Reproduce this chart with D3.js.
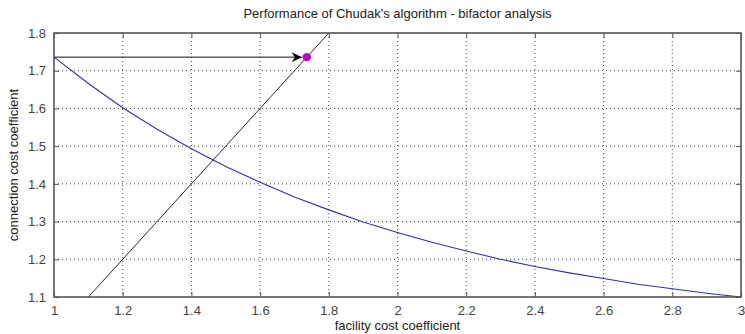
<!DOCTYPE html>
<html>
<head>
<meta charset="utf-8">
<script src="https://cdn.jsdelivr.net/npm/d3@7"></script>
<style>
  body { margin: 0; background: #fff; }
  svg text { font-family: "Liberation Sans", Arial, sans-serif; fill: #222; }
</style>
</head>
<body>
<div id="chart"><svg></svg></div>
<script>
// values
const facility = [1, 1.1, 1.2, 1.3, 1.4, 1.5, 1.6, 1.7, 1.8, 1.9, 2, 2.1, 2.2, 2.3, 2.4, 2.5, 2.6, 2.7, 2.8, 2.9, 3];
const connection = [1.736, 1.666, 1.602, 1.545, 1.493, 1.446, 1.404, 1.365, 1.331, 1.299, 1.271,
  1.245, 1.222, 1.200, 1.181, 1.164, 1.149, 1.134, 1.122, 1.110, 1.100];
const diagonal = [[1.1, 1.1], [1.8, 1.8]];
const bestPoint = [1.736, 1.736];
const arrowStart = [1, 1.736];
const xTicks = [1, 1.2, 1.4, 1.6, 1.8, 2, 2.2, 2.4, 2.6, 2.8, 3];
const yTicks = [1.1, 1.2, 1.3, 1.4, 1.5, 1.6, 1.7, 1.8];

const margin = { top: 33, right: 4, bottom: 37, left: 54 };
const svgSize = { width: 745, height: 334 };
const graphSize = {
  width: svgSize.width - margin.left - margin.right,
  height: svgSize.height - margin.top - margin.bottom,
};

const x = d3.scaleLinear().domain([1, 3]).range([0, graphSize.width]);
const y = d3.scaleLinear().domain([1.1, 1.8]).range([graphSize.height, 0]);

const svg = d3.select("#chart").select("svg")
  .attr("width", svgSize.width)
  .attr("height", svgSize.height);

const defs = svg.append("defs");
defs.append("clipPath").attr("id", "clip")
  .append("rect").attr("width", graphSize.width).attr("height", graphSize.height);
defs.append("marker")
  .attr("id", "arrow")
  .attr("viewBox", "0 0 10 10")
  .attr("refX", 10).attr("refY", 5)
  .attr("markerWidth", 12).attr("markerHeight", 10)
  .attr("markerUnits", "userSpaceOnUse")
  .attr("orient", "auto")
  .append("path")
  .attr("d", "M0,0 L10,5 L0,10 L3,5 Z")
  .attr("fill", "#000");

const g = svg.append("g")
  .attr("transform", "translate(" + margin.left + "," + margin.top + ")");

// grid
g.append("g").selectAll("line").data(xTicks.slice(1, -1)).enter().append("line")
  .attr("x1", d => x(d)).attr("x2", d => x(d))
  .attr("y1", 0).attr("y2", graphSize.height)
  .attr("stroke", "#444").attr("stroke-width", 1).attr("stroke-dasharray", "1,3");
g.append("g").selectAll("line").data(yTicks.slice(1, -1)).enter().append("line")
  .attr("y1", d => y(d)).attr("y2", d => y(d))
  .attr("x1", 0).attr("x2", graphSize.width)
  .attr("stroke", "#444").attr("stroke-width", 1).attr("stroke-dasharray", "1,3");

// axes (ticks point inward, MATLAB style)
const tickFmt = d3.format("");
function styleAxis(sel) {
  sel.select(".domain").remove();
  sel.selectAll(".tick line").attr("stroke", "#555");
  sel.selectAll(".tick text").attr("font-size", 13).style("fill", "#444");
}
g.append("g").attr("transform", "translate(0," + graphSize.height + ")")
  .call(d3.axisBottom(x).tickValues(xTicks).tickFormat(tickFmt).tickSizeInner(-5).tickPadding(9))
  .call(styleAxis);
g.append("g")
  .call(d3.axisTop(x).tickValues(xTicks).tickFormat("").tickSizeInner(-5))
  .call(styleAxis);
g.append("g")
  .call(d3.axisLeft(y).tickValues(yTicks).tickFormat(tickFmt).tickSizeInner(-5).tickPadding(8))
  .call(styleAxis);
g.append("g").attr("transform", "translate(" + graphSize.width + ",0)")
  .call(d3.axisRight(y).tickValues(yTicks).tickFormat("").tickSizeInner(-5))
  .call(styleAxis);

// data
const plot = g.append("g").attr("clip-path", "url(#clip)");
const curve = facility.map((f, i) => [f, connection[i]]);
const line = d3.line().x(d => x(d[0])).y(d => y(d[1]));

plot.append("path").datum(curve)
  .attr("d", line)
  .attr("fill", "none").attr("stroke", "#3030b0").attr("stroke-width", 1.1);

plot.append("path").datum(diagonal)
  .attr("d", line)
  .attr("fill", "none").attr("stroke", "#111").attr("stroke-width", 0.9);

g.append("line")
  .attr("x1", x(arrowStart[0])).attr("y1", y(arrowStart[1]))
  .attr("x2", x(bestPoint[0]) - 5).attr("y2", y(bestPoint[1]))
  .attr("stroke", "#111").attr("stroke-width", 1)
  .attr("marker-end", "url(#arrow)");

g.append("circle")
  .attr("cx", x(bestPoint[0])).attr("cy", y(bestPoint[1]))
  .attr("r", 4.2).attr("fill", "#c000c8");

// frame
g.append("rect")
  .attr("width", graphSize.width).attr("height", graphSize.height)
  .attr("fill", "none").attr("stroke", "#555").attr("stroke-width", 1.6);

// labels
svg.append("text")
  .attr("x", margin.left + graphSize.width / 2).attr("y", 18)
  .attr("text-anchor", "middle").attr("font-size", 13)
  .text("Performance of Chudak's algorithm - bifactor analysis");
svg.append("text")
  .attr("x", margin.left + graphSize.width / 2).attr("y", 330)
  .attr("text-anchor", "middle").attr("font-size", 13)
  .text("facility cost coefficient");
svg.append("text")
  .attr("transform", "translate(18," + (margin.top + graphSize.height / 2) + ") rotate(-90)")
  .attr("text-anchor", "middle").attr("font-size", 13)
  .text("connection cost coefficient");
</script>
</body>
</html>
